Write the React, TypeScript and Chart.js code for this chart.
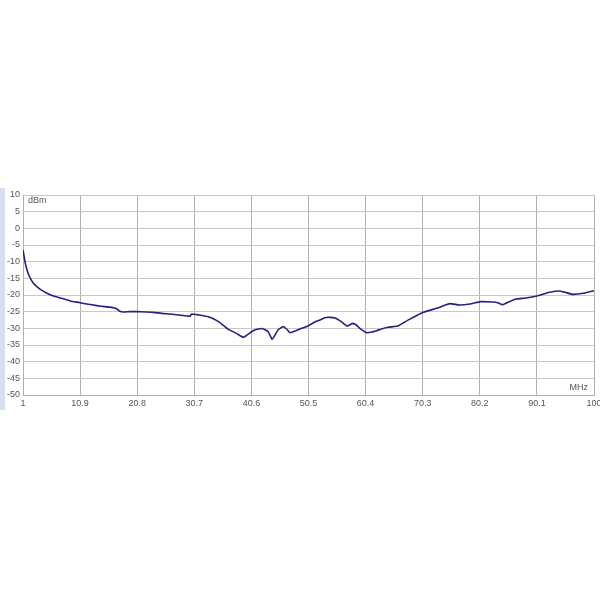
import React, { useEffect, useRef } from "react";
import { Chart, registerables } from "chart.js";

Chart.register(...registerables);

const freqMHz: number[] = [
  1.0, 1.2, 1.4, 1.7, 2.0, 2.4, 2.8, 3.4, 4.0, 5.0, 6.3, 7.7, 9.2, 10.9, 12.3, 13.8, 15.2, 16.7, 17.3, 17.8,
  18.4, 19.5, 20.7, 22.2, 23.6, 25.0, 26.5, 28.0, 29.4, 30.0, 30.2, 31.5, 33.1, 34.0, 34.9, 35.8, 36.6, 38.0,
  39.2, 40.0, 40.9, 41.8, 42.6, 43.5, 44.2, 44.7, 45.2, 46.1, 46.7, 47.3, 48.3, 49.3, 50.5, 51.6, 52.5, 53.3,
  54.2, 55.1, 56.2, 57.2, 58.2, 58.8, 59.4, 60.6, 61.5, 62.3, 63.3, 64.3, 65.2, 66.0, 67.0, 68.0, 69.2, 70.4,
  71.5, 72.7, 73.8, 75.0, 76.7, 78.5, 80.4, 82.4, 83.3, 84.2, 85.3, 86.5, 88.2, 90.1, 92.3, 94.0, 95.0, 96.3,
  98.1, 100.0,
];

const levelDbm: number[] = [
  -6.5, -8.5, -10.5, -12.5, -14.0, -15.4, -16.5, -17.5, -18.3, -19.3, -20.3, -21.0, -21.8, -22.3, -22.8, -23.2,
  -23.5, -23.8, -24.2, -24.9, -25.1, -25.0, -25.0, -25.1, -25.2, -25.5, -25.7, -26.0, -26.3, -26.3, -25.7,
  -26.0, -26.5, -27.1, -28.0, -29.2, -30.3, -31.5, -32.7, -31.8, -30.7, -30.2, -30.1, -31.0, -33.3, -32.0,
  -30.5, -29.5, -30.2, -31.3, -30.7, -30.0, -29.2, -28.1, -27.5, -26.8, -26.7, -26.9, -28.0, -29.3, -28.5,
  -29.0, -30.0, -31.3, -31.1, -30.7, -30.1, -29.7, -29.5, -29.3, -28.3, -27.3, -26.2, -25.2, -24.6, -24.0,
  -23.3, -22.6, -23.0, -22.7, -22.0, -22.1, -22.3, -22.9, -22.0, -21.2, -20.9, -20.3, -19.2, -18.8, -19.2,
  -19.8, -19.5, -18.7,
];

const xTickValues: number[] = [1, 10.9, 20.8, 30.7, 40.6, 50.5, 60.4, 70.3, 80.2, 90.1, 100];
const xTickLabels: string[] = ["1", "10.9", "20.8", "30.7", "40.6", "50.5", "60.4", "70.3", "80.2", "90.1", "100"];

const yUnit = "dBm";
const xUnit = "MHz";

const FONT = "'Liberation Sans', Arial, sans-serif";

const decorPlugin = {
  id: "decor",
  beforeDraw(chart: any) {
    const ctx = chart.ctx;
    ctx.save();
    ctx.fillStyle = "#ffffff";
    ctx.fillRect(0, 0, chart.width, chart.height);
    ctx.fillStyle = "#d6e0ef";
    ctx.fillRect(0, 188, 5, 222);
    ctx.restore();
  },
  afterDraw(chart: any) {
    const ctx = chart.ctx;
    const a = chart.chartArea;
    ctx.save();
    ctx.font = `9px ${FONT}`;
    ctx.fillStyle = "#555555";
    ctx.textBaseline = "middle";
    ctx.textAlign = "left";
    ctx.fillText(yUnit, a.left + 5, a.top + 6);
    ctx.textAlign = "right";
    ctx.fillText(xUnit, a.right - 6, a.bottom - 7);
    ctx.restore();
  },
};

export default function App() {
  const ref = useRef<HTMLCanvasElement | null>(null);

  useEffect(() => {
    if (!ref.current) return;
    const data = freqMHz.map((f, i) => ({ x: f, y: levelDbm[i] }));
    const chart = new Chart(ref.current, {
      type: "line",
      data: {
        datasets: [
          {
            data,
            borderColor: "#22227f",
            borderWidth: 1.6,
            pointRadius: 0,
            tension: 0.15,
            fill: false,
          },
        ],
      },
      plugins: [decorPlugin],
      options: {
        animation: false,
        responsive: false,
        maintainAspectRatio: false,
        layout: { padding: { left: 0, top: 195, right: 6, bottom: 190 } },
        plugins: { legend: { display: false }, tooltip: { enabled: false }, title: { display: false } },
        scales: {
          x: {
            type: "linear",
            min: 1,
            max: 100,
            afterBuildTicks: (scale: any) => {
              scale.ticks = xTickValues.map((v) => ({ value: v }));
            },
            afterFit: (scale: any) => {
              scale.height = 15;
              scale.paddingLeft = 0;
              scale.paddingRight = 0;
            },
            ticks: {
              autoSkip: false,
              maxRotation: 0,
              minRotation: 0,
              padding: 3,
              color: "#555555",
              font: { family: FONT, size: 9 },
              callback: (v: any) => {
                const i = xTickValues.findIndex((t) => Math.abs(t - Number(v)) < 1e-6);
                return i >= 0 ? xTickLabels[i] : "";
              },
            },
            grid: { color: "#b0b0b0", lineWidth: 1, drawTicks: false },
            border: { display: true, color: "#b0b0b0" },
          },
          y: {
            type: "linear",
            min: -50,
            max: 10,
            afterFit: (scale: any) => {
              scale.width = 23;
              scale.paddingTop = 0;
              scale.paddingBottom = 0;
            },
            ticks: {
              stepSize: 5,
              padding: 3,
              color: "#555555",
              font: { family: FONT, size: 9 },
            },
            grid: { color: "#c8c8c8", lineWidth: 1, drawTicks: false },
            border: { display: true, color: "#b0b0b0" },
          },
        },
      },
    } as any);
    return () => chart.destroy();
  }, []);

  return (
    <div style={{ position: "fixed", left: 0, top: 0, width: 600, height: 600, overflow: "hidden", background: "#fff" }}>
      <canvas ref={ref} width={600} height={600} style={{ display: "block" }} />
    </div>
  );
}
